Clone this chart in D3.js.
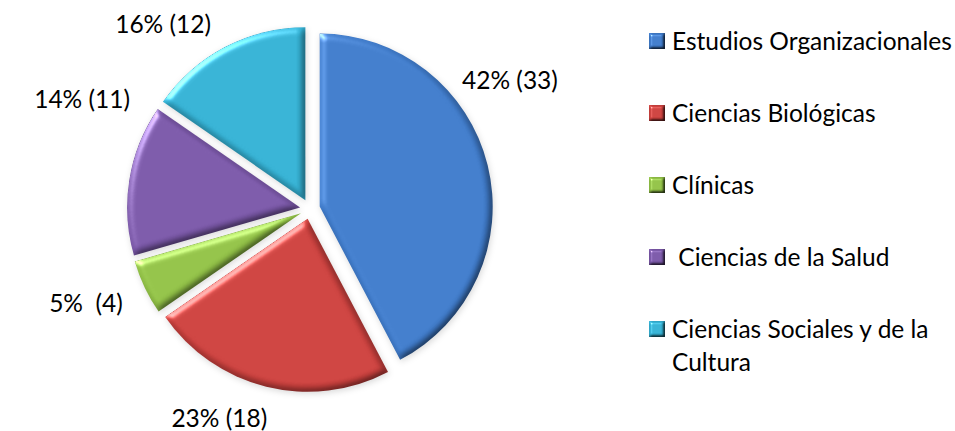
<!DOCTYPE html>
<html>
<head>
<meta charset="utf-8">
<script src="https://cdn.jsdelivr.net/npm/d3@7"></script>
<style>
  html, body { margin: 0; padding: 0; background: #fff; }
  svg { display: block; }
</style>
</head>
<body>
<div id="chart"></div>
<script>
// data
const categories = ["Estudios Organizacionales", "Ciencias Biológicas", "Clínicas", " Ciencias de la Salud", "Ciencias Sociales y de la Cultura"];
const counts = [33, 18, 4, 11, 12];
const sliceLabels = ["42% (33)", "23% (18)", "5%  (4)", "14% (11)", "16% (12)"];

// look
const colors = ["#3e79c7", "#c9403d", "#8fbe45", "#7856a5", "#33aed0"];
const legendLines = [["Estudios Organizacionales"], ["Ciencias Biológicas"], ["Clínicas"], [" Ciencias de la Salud"], ["Ciencias Sociales y de la", "Cultura"]];
// excel "best fit" puts the labels off the bisector: [angle shift in deg, radius]
const labelPlacement = [[-19, 238], [9.6, 228], [2.6, 243], [16.5, 253], [-10.8, 236]];

const width = 955, height = 431;
const cx = 310, cy = 209, radius = 173, explode = 10;
const font = "Lato, 'Open Sans', sans-serif";
const fontSize = 24.5;

const svg = d3.select("#chart").append("svg")
    .attr("width", width)
    .attr("height", height)
    .attr("font-family", font)
    .attr("font-size", fontSize);

const defs = svg.append("defs");

// bevel + soft shadow, roughly like the office 2007 style
function bevel(id, blur, scale, shadow) {
    const f = defs.append("filter")
        .attr("id", id)
        .attr("x", "-20%").attr("y", "-20%")
        .attr("width", "140%").attr("height", "140%")
        .attr("color-interpolation-filters", "sRGB");
    f.append("feGaussianBlur").attr("in", "SourceAlpha").attr("stdDeviation", blur).attr("result", "b");
    f.append("feDiffuseLighting")
        .attr("in", "b").attr("surfaceScale", scale).attr("diffuseConstant", 1.16)
        .attr("lighting-color", "#fff").attr("result", "d")
        .append("feDistantLight").attr("azimuth", 225).attr("elevation", 60);
    f.append("feComposite").attr("in", "SourceGraphic").attr("in2", "d")
        .attr("operator", "arithmetic").attr("k1", 1).attr("result", "lit");
    f.append("feSpecularLighting")
        .attr("in", "b").attr("surfaceScale", scale).attr("specularConstant", 0.5)
        .attr("specularExponent", 30).attr("lighting-color", "#fff").attr("result", "s")
        .append("feDistantLight").attr("azimuth", 225).attr("elevation", 40);
    f.append("feComposite").attr("in", "s").attr("in2", "SourceAlpha").attr("operator", "in").attr("result", "s2");
    f.append("feComposite").attr("in", "lit").attr("in2", "s2")
        .attr("operator", "arithmetic").attr("k2", 1).attr("k3", 1).attr("result", "shaded");
    if (shadow) {
        f.append("feGaussianBlur").attr("in", "SourceAlpha").attr("stdDeviation", 3).attr("result", "sb");
        f.append("feOffset").attr("in", "sb").attr("dx", 1).attr("dy", 2).attr("result", "so");
        f.append("feFlood").attr("flood-color", "#000").attr("flood-opacity", 0.15);
        f.append("feComposite").attr("in2", "so").attr("operator", "in").attr("result", "sh");
        const m = f.append("feMerge");
        m.append("feMergeNode").attr("in", "sh");
        m.append("feMergeNode").attr("in", "shaded");
    }
}
bevel("bevel", 3.5, 2.8, true);
bevel("bevelSmall", 1.6, 2.5, false);

// pie
const pie = d3.pie().sort(null).value(d => d)(counts);
const arc = d3.arc().innerRadius(0).outerRadius(radius);

const slices = svg.append("g")
    .attr("transform", `translate(${cx},${cy})`);

slices.selectAll("path")
    .data(pie)
    .join("path")
    .attr("transform", d => {
        const a = (d.startAngle + d.endAngle) / 2;
        return `translate(${Math.sin(a) * explode},${-Math.cos(a) * explode})`;
    })
    .attr("d", arc)
    .attr("fill", (d, i) => colors[i])
    .attr("filter", "url(#bevel)");

slices.selectAll("text")
    .data(pie)
    .join("text")
    .attr("text-anchor", "middle")
    .attr("dy", "0.35em")
    .attr("fill", "#000")
    .attr("x", (d, i) => {
        const a = (d.startAngle + d.endAngle) / 2 + labelPlacement[i][0] * Math.PI / 180;
        return Math.sin(a) * labelPlacement[i][1];
    })
    .attr("y", (d, i) => {
        const a = (d.startAngle + d.endAngle) / 2 + labelPlacement[i][0] * Math.PI / 180;
        return -Math.cos(a) * labelPlacement[i][1];
    })
    .style("white-space", "pre")
    .text((d, i) => sliceLabels[i]);

// legend
const rowY = d3.scaleLinear().domain([0, categories.length - 1]).range([41, 329]);
const legend = svg.append("g");
const item = legend.selectAll("g")
    .data(categories)
    .join("g")
    .attr("transform", (d, i) => `translate(649,${rowY(i)})`);

item.append("rect")
    .attr("x", 0).attr("y", -8)
    .attr("width", 16).attr("height", 16)
    .attr("fill", (d, i) => colors[i])
    .attr("filter", "url(#bevelSmall)");

item.append("text")
    .attr("x", 23)
    .attr("fill", "#000")
    .style("white-space", "pre")
    .selectAll("tspan")
    .data((d, i) => legendLines[i])
    .join("tspan")
    .attr("x", 23)
    .attr("y", (d, j) => j * 33)
    .attr("dy", "0.35em")
    .text(d => d);
</script>
</body>
</html>
